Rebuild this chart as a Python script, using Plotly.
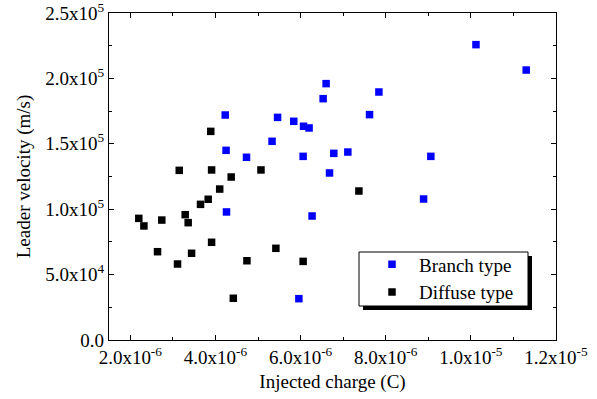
import plotly.graph_objects as go

# Branch type (blue)
branch_q = [4.23e-6, 4.25e-6, 4.73e-6, 4.26e-6, 5.33e-6, 5.46e-6, 5.84e-6, 6.60e-6,
            6.53e-6, 7.84e-6, 6.07e-6, 6.20e-6, 7.62e-6, 6.06e-6, 6.78e-6, 7.11e-6,
            6.68e-6, 6.27e-6, 5.96e-6, 10.12e-6, 11.30e-6, 9.06e-6, 8.89e-6]
branch_v = [172000, 145000, 139700, 97900, 151900, 170200, 167200, 196000,
            184500, 189600, 163400, 162100, 172300, 140400, 142700, 143700,
            127700, 94800, 31600, 225800, 206400, 140400, 107800]

# Diffuse type (black)
diffuse_q = [3.89e-6, 3.15e-6, 3.91e-6, 5.07e-6, 4.37e-6, 4.10e-6, 3.83e-6, 3.65e-6,
             2.20e-6, 2.74e-6, 3.29e-6, 2.32e-6, 3.36e-6, 3.91e-6, 2.64e-6, 3.44e-6,
             3.11e-6, 4.74e-6, 4.42e-6, 7.37e-6, 5.42e-6, 6.06e-6]
diffuse_v = [159500, 129700, 130000, 130000, 124600, 115400, 107600, 103700,
             93000, 91700, 95800, 87200, 89700, 74700, 67500, 66300,
             58100, 60600, 31900, 113900, 70100, 60100]

x_tickvals = [2e-6, 4e-6, 6e-6, 8e-6, 1.0e-5, 1.2e-5]
x_ticktext = ["2.0x10<sup>-6</sup>", "4.0x10<sup>-6</sup>", "6.0x10<sup>-6</sup>",
              "8.0x10<sup>-6</sup>", "1.0x10<sup>-5</sup>", "1.2x10<sup>-5</sup>"]
y_tickvals = [0, 5e4, 1e5, 1.5e5, 2e5, 2.5e5]
y_ticktext = ["0.0", "5.0x10<sup>4</sup>", "1.0x10<sup>5</sup>", "1.5x10<sup>5</sup>",
              "2.0x10<sup>5</sup>", "2.5x10<sup>5</sup>"]

FONT = "Liberation Serif"

fig = go.Figure()
fig.add_trace(go.Scatter(x=branch_q, y=branch_v, mode="markers", name="Branch type",
                         marker=dict(symbol="square", size=7.5, color="#0000ff")))
fig.add_trace(go.Scatter(x=diffuse_q, y=diffuse_v, mode="markers", name="Diffuse type",
                         marker=dict(symbol="square", size=7.5, color="#000000")))

axis_common = dict(showline=True, linecolor="black", linewidth=1.3, mirror="allticks",
                   ticks="inside", ticklen=5, tickwidth=1.2, tickcolor="black",
                   showgrid=False, zeroline=False, ticklabeloverflow="allow",
                   automargin=False,
                   tickfont=dict(family=FONT, size=19, color="black"))

fig.update_xaxes(range=[1.5e-6, 1.2e-5], tickmode="array", tickvals=x_tickvals,
                 ticktext=x_ticktext,
                 minor=dict(tick0=0, dtick=1e-6, ticks="inside", ticklen=3,
                            tickcolor="black", tickwidth=1.2),
                 title=dict(text="Injected charge (C)",
                            font=dict(family=FONT, size=19, color="black"), standoff=7),
                 **axis_common)
fig.update_yaxes(range=[0, 2.5e5], tickmode="array", tickvals=y_tickvals,
                 ticktext=y_ticktext,
                 minor=dict(tick0=0, dtick=2.5e4, ticks="inside", ticklen=3,
                            tickcolor="black", tickwidth=1.2),
                 title=dict(text="Leader velocity (m/s)",
                            font=dict(family=FONT, size=19, color="black"), standoff=9),
                 **axis_common)

L, R, T, B = 109, 41, 13, 59
W, H = 597, 399
pw, ph = W - L - R, H - T - B


def px2x(p):
    return (p - L) / pw


def px2y(p):
    return (H - B - p) / ph


lx0, lx1, ly0, ly1 = 359, 528, 252, 306  # legend frame in pixels
# shadow
fig.add_shape(type="rect", xref="paper", yref="paper",
              x0=px2x(lx0 + 4), x1=px2x(lx1 + 4), y0=px2y(ly1 + 4), y1=px2y(ly0 + 4),
              fillcolor="black", line=dict(width=0), layer="above")
# frame
fig.add_shape(type="rect", xref="paper", yref="paper",
              x0=px2x(lx0), x1=px2x(lx1), y0=px2y(ly1), y1=px2y(ly0),
              fillcolor="white", line=dict(color="black", width=1), layer="above")

fig.update_layout(
    width=W, height=H,
    margin=dict(l=L, r=R, t=T, b=B, autoexpand=False),
    paper_bgcolor="white", plot_bgcolor="white",
    font=dict(family=FONT, size=19, color="black"),
    showlegend=True,
    legend=dict(x=px2x(365), y=px2y(245.5), xanchor="left", yanchor="top",
                bgcolor="rgba(0,0,0,0)", borderwidth=0,
                itemwidth=44, tracegroupgap=0,
                font=dict(family=FONT, size=19, color="black")),
)

fig.write_html("out.html")
